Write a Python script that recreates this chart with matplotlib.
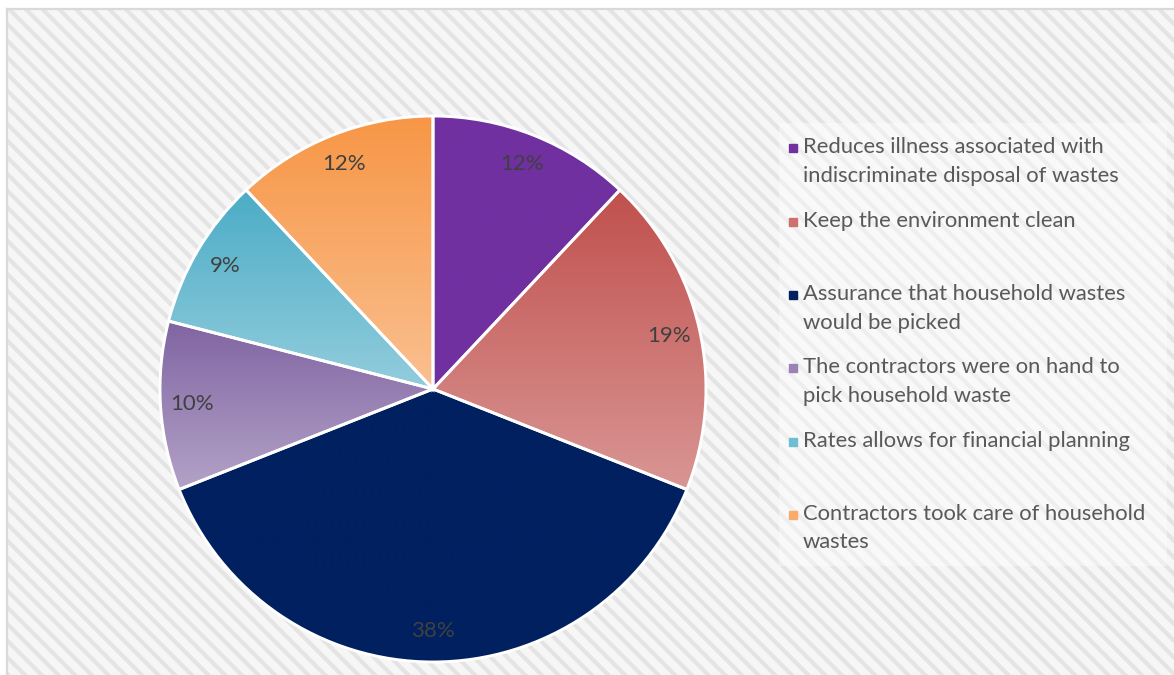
import numpy as np
import matplotlib.pyplot as plt
from matplotlib.patches import Rectangle
from matplotlib.colors import to_rgba

plt.rcParams['font.family'] = ['Lato', 'DejaVu Sans']
plt.rcParams['hatch.linewidth'] = 3.0
plt.rcParams['hatch.color'] = '#E4E4E4'

labels = [
    "Reduces illness associated with\nindiscriminate disposal of wastes",
    "Keep the environment clean",
    "Assurance that household wastes\nwould be picked",
    "The contractors were on hand to\npick household waste",
    "Rates allows for financial planning",
    "Contractors took care of household\nwastes",
]
shares = [12, 19, 38, 10, 9, 12]
# top and bottom colour of each slice's vertical gradient
top_colors = ['#7030A0', '#C0504D', '#002060', '#8064A2', '#4BACC6', '#F79646']
bottom_colors = ['#7030A0', '#D99694', '#002060', '#B3A2C7', '#93CDDD', '#FAC090']
key_colors = ['#7030A0', '#CD706E', '#002060', '#9983B5', '#70BED2', '#F8AB6B']

W, H = 1174, 675
fig = plt.figure(figsize=(W / 100, H / 100), dpi=100)
fig.patch.set_facecolor('white')

def px(x, y):
    # pixel position (from top-left) -> figure fraction
    return x / W, 1 - y / H

# hatched chart area with a grey border on top/left
x0, y0 = px(7, H + 5)
x1, y1 = px(W + 5, 9)
fig.patches.append(Rectangle((x0, y0), x1 - x0, y1 - y0, transform=fig.transFigure,
                             facecolor='#F6F6F6', edgecolor='#E4E4E4', hatch='\\\\',
                             linewidth=0, zorder=-5))
fig.add_artist(plt.Line2D([x0, x0], [y0, y1], color='#D9D9D9', lw=1.6, zorder=-4))
fig.add_artist(plt.Line2D([x0, x1], [y1, y1], color='#D9D9D9', lw=1.6, zorder=-4))

# pie axes, centre (433, 389) radius 273 px
cx, cy, r = 433, 389, 273
ax = fig.add_axes([(cx - r) / W, (H - cy - r) / H, 2 * r / W, 2 * r / H])
ax.set_zorder(1)
ax.patch.set_visible(False)

wedges, _, pcts = ax.pie(shares, startangle=90, counterclock=False,
                         autopct='%d%%', pctdistance=0.885,
                         wedgeprops=dict(edgecolor='white', linewidth=2.1),
                         textprops=dict(color='#404040', fontsize=16))

for w, ct, cb in zip(wedges, top_colors, bottom_colors):
    ext = w.get_path().get_extents()
    grad = np.linspace(0, 1, 256)[:, None, None]
    img = (1 - grad) * np.array(to_rgba(ct)) + grad * np.array(to_rgba(cb))
    im = ax.imshow(img, extent=[ext.x0, ext.x1, ext.y0, ext.y1], origin='upper',
                   aspect='auto', zorder=1, interpolation='bilinear')
    im.set_clip_path(w)
    w.set_facecolor('none')
    w.set_zorder(2)
for t in pcts:
    t.set_zorder(3)

ax.set_xlim(-1, 1)
ax.set_ylim(-1, 1)
ax.set_aspect('equal')
ax.axis('off')

# legend box
lx0, ly0 = px(779, 566)
lx1, ly1 = px(1167, 123)
fig.patches.append(Rectangle((lx0, ly0), lx1 - lx0, ly1 - ly0, transform=fig.transFigure,
                             facecolor='white', alpha=0.4, linewidth=0, zorder=2))

slot_top, slot_h, line_h = 125, 73.3, 28.5
for i, (lab, col) in enumerate(zip(labels, key_colors)):
    yfirst = slot_top + slot_h * i + slot_h / 2 - line_h / 2
    mx, my = px(793, yfirst + 1)
    fig.add_artist(plt.Line2D([mx], [my], marker='s', markersize=5.5, color=col,
                              linestyle='none', zorder=3))
    for j, line in enumerate(lab.split('\n')):
        tx, ty = px(803, yfirst + j * line_h)
        fig.text(tx, ty, line, fontsize=15.8, color='#595959', va='center', ha='left',
                 zorder=3)

fig.savefig('out.png', dpi=100)
